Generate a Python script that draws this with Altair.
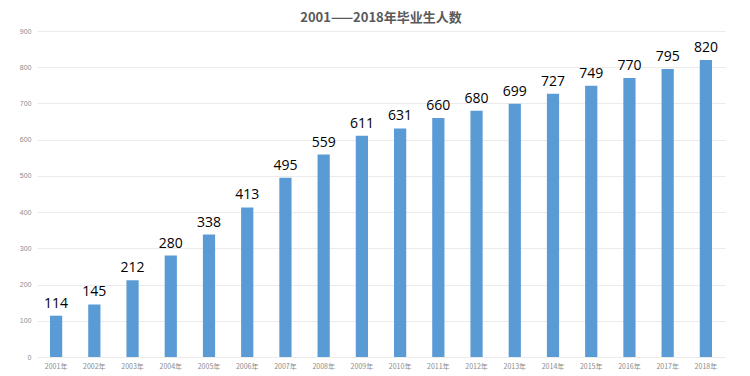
import altair as alt
import pandas as pd

years = [f"{y}年" for y in range(2001, 2019)]
values = [114, 145, 212, 280, 338, 413, 495, 559, 611, 631, 660, 680, 699, 727, 749, 770, 795, 820]
title_text = "2001——2018年毕业生人数"

df = pd.DataFrame({"year": years, "value": values})

base = alt.Chart(df).encode(
    x=alt.X("year:N", sort=years, title=None,
            scale=alt.Scale(paddingInner=0.68, paddingOuter=0.34),
            axis=alt.Axis(labelAngle=0, labelFontSize=7, labelColor="#8c8c8c",
                          labelFont="Noto Sans CJK SC", domain=False, ticks=False,
                          labelPadding=5)),
    y=alt.Y("value:Q", title=None,
            scale=alt.Scale(domain=[0, 900]),
            axis=alt.Axis(values=list(range(0, 901, 100)), labelFontSize=7,
                          labelColor="#8c8c8c", domain=False, ticks=False,
                          gridColor="#ebebeb", labelPadding=6)),
)

bars = base.mark_bar(color="#5b9bd5")
labels = base.mark_text(dy=-12, fontSize=14, color="#000000",
                        font="Open Sans").encode(text="value:Q")

chart = (bars + labels).properties(
    width=688, height=326,
    padding={"left": 11, "top": 4, "right": 5, "bottom": 5},
    title=alt.TitleParams(title_text, font="Noto Sans CJK SC", fontSize=13,
                          fontWeight="bold", color="#595959", offset=2,
                          anchor="middle"),
).configure_view(stroke=None)

chart.save("out.html", embed_options={"renderer": "svg", "actions": False})
